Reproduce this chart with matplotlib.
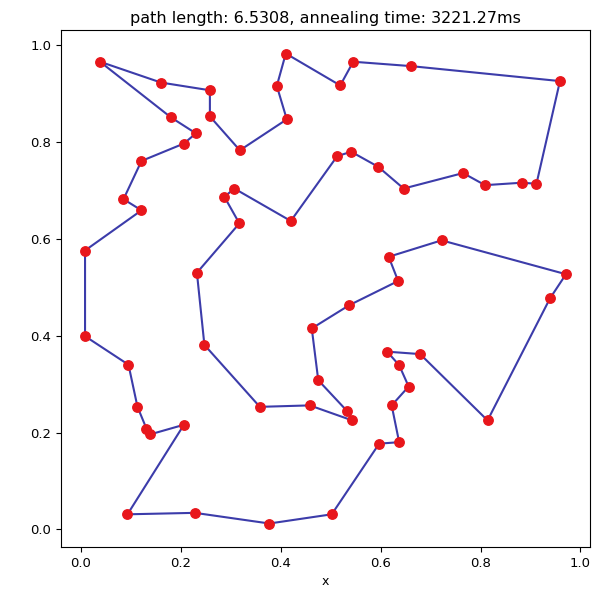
import matplotlib
matplotlib.use("Agg")
import matplotlib.pyplot as plt

# tour order (closed path)
xs = [0.038, 0.160, 0.258, 0.258, 0.318, 0.412, 0.392, 0.410, 0.519, 0.545,
      0.660, 0.959, 0.912, 0.882, 0.809, 0.765, 0.646, 0.595, 0.541, 0.513,
      0.420, 0.307, 0.287, 0.317, 0.232, 0.247, 0.358, 0.458, 0.543, 0.533,
      0.475, 0.462, 0.537, 0.635, 0.616, 0.722, 0.971, 0.939, 0.814, 0.679,
      0.613, 0.637, 0.656, 0.622, 0.637, 0.597, 0.502, 0.377, 0.228, 0.093,
      0.206, 0.138, 0.131, 0.113, 0.095, 0.008, 0.008, 0.121, 0.085, 0.121,
      0.206, 0.230, 0.180]
ys = [0.966, 0.923, 0.907, 0.853, 0.783, 0.847, 0.916, 0.983, 0.917, 0.966,
      0.957, 0.926, 0.714, 0.716, 0.711, 0.736, 0.704, 0.749, 0.780, 0.771,
      0.637, 0.704, 0.687, 0.632, 0.530, 0.381, 0.253, 0.256, 0.225, 0.244,
      0.308, 0.415, 0.463, 0.513, 0.563, 0.597, 0.527, 0.477, 0.225, 0.362,
      0.367, 0.339, 0.295, 0.256, 0.180, 0.177, 0.031, 0.012, 0.034, 0.031,
      0.216, 0.196, 0.208, 0.253, 0.340, 0.399, 0.576, 0.659, 0.682, 0.761,
      0.797, 0.818, 0.851]
path_len = "6.5308"
anneal_ms = "3221.27"

fig = plt.figure(figsize=(5.92, 5.90), dpi=100)
ax = fig.add_axes([61 / 592, 43 / 590, 529 / 592, 517 / 590])

# close the tour
px = xs + [xs[0]]
py = ys + [ys[0]]
ax.plot(px, py, '-', color='#3c3caa', lw=1.5, zorder=2)
ax.plot(xs, ys, 'o', color='#e8161b', ms=6.8, zorder=3)

ax.set_title(f"path length: {path_len}, annealing time: {anneal_ms}ms", fontsize=11.5, pad=5)
ax.set_xlabel('x', fontsize=9)
ax.tick_params(labelsize=9.5)

fig.savefig('out.png', dpi=100)
